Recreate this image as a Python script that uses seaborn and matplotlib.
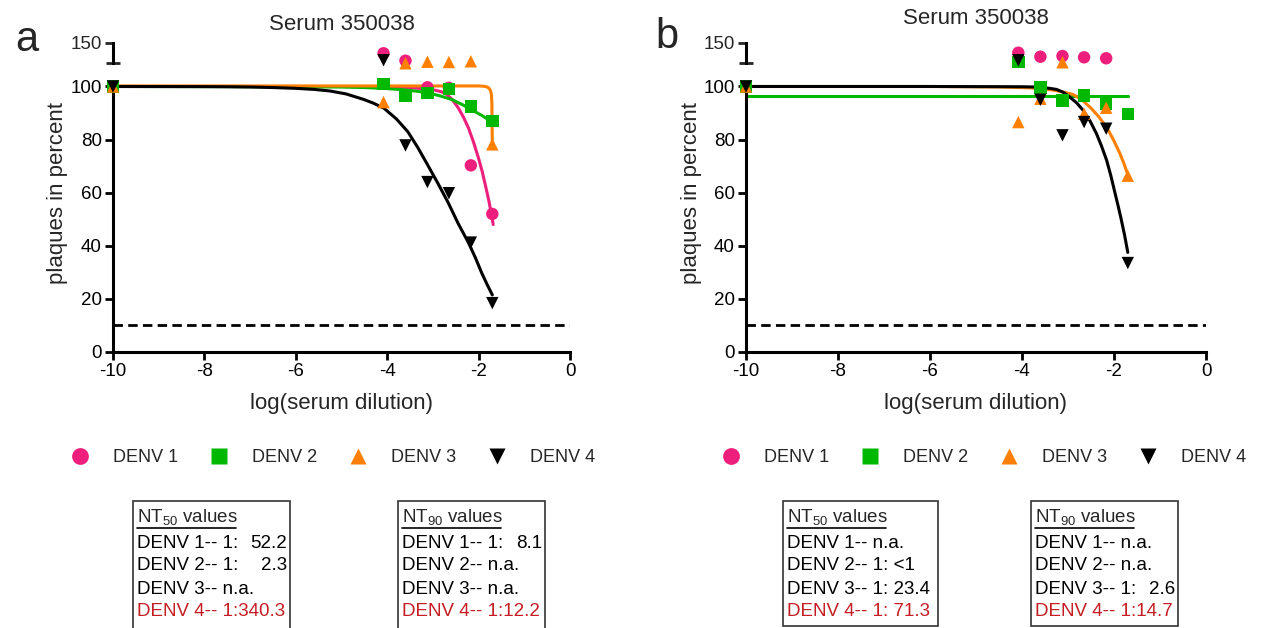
import numpy as np
import pandas as pd
import matplotlib.pyplot as plt
import seaborn as sns
from matplotlib.lines import Line2D
from matplotlib.patches import Rectangle

# 数据
log_dilution = [-10, -4.08, -3.60, -3.12, -2.65, -2.17, -1.70]
serotypes = ["DENV 1", "DENV 2", "DENV 3", "DENV 4"]
colors = ["#ED1E7C", "#00B800", "#FF7F00", "#000000"]
markers = ["o", "s", "^", "v"]

# panel a: measured plaques (values above the axis break sit on the top segment)
a_denv1 = [100, 134.6, 123.8, 99.7, 99.5, 70.3, 52.0]
a_denv2 = [100, 101.0, 96.6, 97.6, 99.1, 92.5, 87.0]
a_denv3 = [100, 94.1, 120.0, 122.3, 121.9, 122.9, 78.2]
a_denv4 = [100, 124.4, 77.8, 64.0, 59.8, 41.2, 18.4]

# panel b
b_denv1 = [100, 135.4, 129.6, 130.6, 128.7, 127.3, np.nan]
b_denv2 = [100, 122.3, 99.6, 94.7, 96.6, 93.5, 89.7]
b_denv3 = [100, 86.6, 95.4, 121.5, 89.7, 92.0, 66.4]
b_denv4 = [100, 124.4, 95.0, 81.6, 86.6, 84.1, 33.5]

# fitted curves
a_fit1_x = [-10, -5, -3.8, -3.5, -3.3, -3.1, -2.95, -2.81, -2.7, -2.6, -2.5, -2.44,
            -2.33, -2.22, -2.11, -2.0, -1.92, -1.85, -1.77, -1.68]
a_fit1_y = [100, 100, 99.8, 99.6, 99.3, 99.0, 98.6, 98.0, 97.0, 95.5, 93.3, 91.8,
            88.4, 84.3, 79.0, 72.9, 67.9, 62.7, 56.5, 48.0]
a_fit2_x = [-10, -6, -5, -4.5, -4.07, -3.6, -3.35, -3.11, -2.85, -2.59, -2.37,
            -2.15, -1.92, -1.70]
a_fit2_y = [100, 99.9, 99.8, 99.6, 99.3, 98.7, 98.2, 97.6, 96.5, 95.1, 93.3,
            91.2, 89.0, 86.5]
a_fit3_x = [-10, -2.0, -1.9, -1.85, -1.8, -1.77, -1.74, -1.72, -1.71, -1.70]
a_fit3_y = [100.2, 100.2, 100.1, 100.0, 99.7, 99.3, 98.5, 97.0, 94.0, 78.0]
a_fit4_x = [-10, -8, -7.5, -7, -6.5, -6, -5.6, -5.25, -4.9, -4.51, -4.3, -4.07,
            -3.8, -3.55, -3.33, -3.11, -2.89, -2.67, -2.45, -2.22, -2.07,
            -1.93, -1.81, -1.70]
a_fit4_y = [100, 99.95, 99.9, 99.8, 99.6, 99.3, 98.9, 98.3, 97.2, 95.1, 93.7, 91.8,
            87.8, 83.0, 77.0, 70.3, 63.5, 56.4, 48.5, 41.1, 35.5,
            29.7, 25.3, 21.5]

b_fit2_x = [-10, -1.70]
b_fit2_y = [96.5, 96.5]
b_fit3_x = [-10, -6, -4.5, -3.83, -3.6, -3.3, -3.1, -2.89, -2.7, -2.52, -2.34,
            -2.16, -2.0, -1.87, -1.78, -1.70]
b_fit3_y = [100, 100, 99.8, 99.5, 99.2, 98.6, 97.9, 97.0, 95.0, 92.2, 88.8,
            84.7, 79.5, 74.7, 70.8, 66.8]
b_fit4_x = [-10, -6, -4, -3.7, -3.54, -3.4, -3.25, -3.1, -2.96, -2.81, -2.67,
            -2.52, -2.38, -2.27, -2.16, -2.07, -1.98, -1.91, -1.85, -1.77, -1.70]
b_fit4_y = [100, 100, 99.9, 99.8, 99.6, 99.3, 98.9, 97.8, 96.0, 93.8, 91.0,
            87.0, 82.2, 77.5, 72.2, 66.5, 60.0, 55.0, 50.5, 44.0, 37.5]

cutoff = 10

# NT 表
a_nt50 = [("DENV 1-- 1:", "52.2"), ("DENV 2-- 1:", "2.3"), ("DENV 3-- n.a.", ""), ("DENV 4-- 1:340.3", "")]
a_nt90 = [("DENV 1-- 1:", "8.1"), ("DENV 2-- n.a.", ""), ("DENV 3-- n.a.", ""), ("DENV 4-- 1:12.2", "")]
b_nt50 = [("DENV 1-- n.a.", ""), ("DENV 2-- 1: <1", ""), ("DENV 3-- 1: 23.4", ""), ("DENV 4-- 1: 71.3", "")]
b_nt90 = [("DENV 1-- n.a.", ""), ("DENV 2-- n.a.", ""), ("DENV 3-- 1:", "2.6"), ("DENV 4-- 1:14.7", "")]

sns.set_style("white")
plt.rcParams["font.family"] = ["Liberation Sans", "DejaVu Sans"]
plt.rcParams["mathtext.fontset"] = "custom"
plt.rcParams["mathtext.rm"] = "Liberation Sans"
plt.rcParams["axes.unicode_minus"] = False

W, H = 1262, 628
fig = plt.figure(figsize=(W / 100, H / 100), dpi=100)


def px_rect(l, t, r, b):
    return [l / W, (H - b) / H, (r - l) / W, (b - t) / H]


def fx(x):
    return x / W


def fy(y):
    return (H - y) / H


def draw_panel(left, right, values, fits, letter, letter_xy, title_y, leg_left):
    ax_lo = fig.add_axes(px_rect(left, 83.3, right, 352))
    ax_hi = fig.add_axes(px_rect(left, 42.7, right, 63.3))

    df = pd.DataFrame({
        "x": log_dilution * 4,
        "y": sum(values, []),
        "serotype": np.repeat(serotypes, len(log_dilution)),
    }).dropna()
    low = df[df["y"] <= 105]
    high = df[df["y"] > 105]

    for (cx, cy), c in zip(fits, colors):
        if cx is None:
            continue
        sns.lineplot(x=cx, y=cy, color=c, lw=2.2, sort=False, estimator=None, ax=ax_lo)

    ax_lo.axhline(cutoff, color="black", lw=2, linestyle=(0, (3.4, 1.9)))

    kw = dict(x="x", y="y", hue="serotype", style="serotype", hue_order=serotypes,
              style_order=serotypes, palette=colors, markers=markers, s=80,
              edgecolor="none", clip_on=False, zorder=5)
    sns.scatterplot(data=low, ax=ax_lo, legend=True, **kw)
    sns.scatterplot(data=high, ax=ax_hi, legend=False, **kw)

    ax_lo.set_xlim(-10, 0)
    ax_lo.set_ylim(0, 101.2)
    ax_lo.set_xticks(range(-10, 1, 2))
    ax_lo.set_yticks(range(0, 101, 20))
    ax_lo.set_xlabel("")
    ax_lo.set_ylabel("")
    for s in ["top", "right"]:
        ax_lo.spines[s].set_visible(False)
    for s in ["left", "bottom"]:
        ax_lo.spines[s].set_linewidth(2.2)
        ax_lo.spines[s].set_color("black")
    ax_lo.tick_params(direction="out", length=6, width=2, labelsize=13.5, pad=2,
                      left=True, bottom=True, colors="black")

    ax_hi.set_xlim(-10, 0)
    ax_hi.set_ylim(120, 150)
    ax_hi.set_xticks([])
    ax_hi.set_yticks([150])
    ax_hi.set_yticks([120], minor=True)
    ax_hi.set_xlabel("")
    ax_hi.set_ylabel("")
    for s in ["top", "right", "bottom"]:
        ax_hi.spines[s].set_visible(False)
    ax_hi.spines["left"].set_linewidth(2.2)
    ax_hi.spines["left"].set_color("black")
    ax_hi.tick_params(which="major", direction="out", length=6, width=2, labelsize=13.5,
                      pad=2, left=True)
    ax_hi.tick_params(which="minor", direction="inout", length=10, width=2, left=True)
    ax_hi.patch.set_alpha(0)

    cx = (left + right) / 2
    fig.text(fx(cx), fy(title_y), "Serum 350038", ha="center", va="center", fontsize=16)
    fig.text(fx(cx), fy(404), "log(serum dilution)", ha="center", va="center", fontsize=16)
    fig.text(fx(left - 55), fy(193), "plaques in percent", ha="center", va="center",
             rotation=90, fontsize=16)
    fig.text(fx(letter_xy[0]), fy(letter_xy[1]), letter, ha="center", va="center", fontsize=30)

    sns.move_legend(ax_lo, "center left", bbox_to_anchor=(fx(leg_left), fy(458)),
                    bbox_transform=fig.transFigure, ncol=4, frameon=False, title=None,
                    fontsize=13, handlelength=1.0, handletextpad=1.32, columnspacing=1.78,
                    markerscale=1.35, borderpad=0, borderaxespad=0)


def draw_box(left, right, bottom, sub, rows):
    top = 501
    fig.add_artist(Rectangle((fx(left), fy(bottom)), fx(right - left), (bottom - top) / H,
                             transform=fig.transFigure, fill=False, lw=1.2,
                             edgecolor="#333333", clip_on=False))
    tx = left + 4
    fig.text(fx(tx), fy(518), r"NT$_\mathregular{%s}$ values" % sub, ha="left",
             va="center", fontsize=13.5)
    fig.add_artist(Line2D([fx(tx), fx(tx + 99)], [fy(528), fy(528)],
                          transform=fig.transFigure, color="black", lw=1.2))
    for i, (lab, val) in enumerate(rows):
        y = fy(543 + 23 * i)
        c = "#C41E24" if i == 3 else "black"
        fig.text(fx(tx), y, lab, ha="left", va="center", fontsize=13.5, color=c)
        if val:
            fig.text(fx(right - 3), y, val, ha="right", va="center", fontsize=13.5, color=c)


draw_panel(113, 570, [a_denv1, a_denv2, a_denv3, a_denv4],
           [(a_fit1_x, a_fit1_y), (a_fit2_x, a_fit2_y), (a_fit3_x, a_fit3_y), (a_fit4_x, a_fit4_y)],
           "a", (27, 40), 25, 71)
draw_panel(746, 1206, [b_denv1, b_denv2, b_denv3, b_denv4],
           [(None, None), (b_fit2_x, b_fit2_y), (b_fit3_x, b_fit3_y), (b_fit4_x, b_fit4_y)],
           "b", (667, 37), 18, 722)

draw_box(133, 290, 640, "50", a_nt50)
draw_box(398, 545, 640, "90", a_nt90)
draw_box(783, 938, 626, "50", b_nt50)
draw_box(1031, 1178, 626, "90", b_nt90)

plt.savefig("out.png", dpi=100)
